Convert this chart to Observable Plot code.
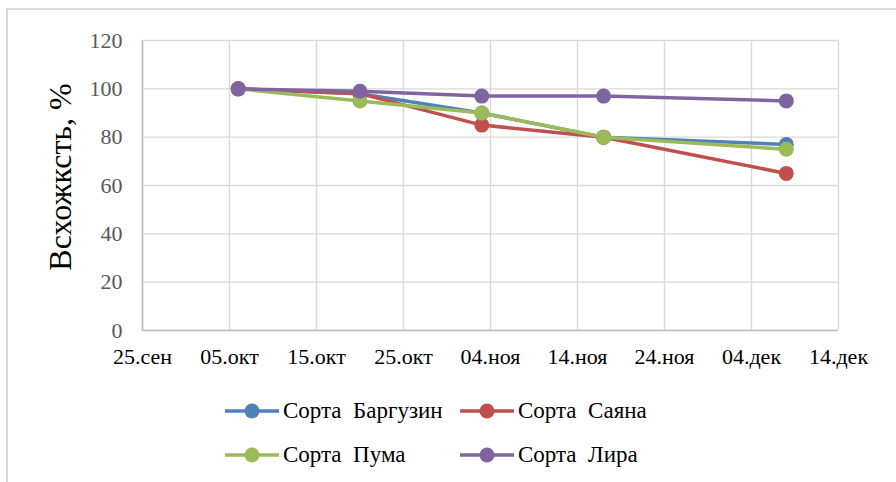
<!DOCTYPE html>
<html>
<head>
<meta charset="utf-8">
<script src="https://cdn.jsdelivr.net/npm/d3@7"></script>
<script src="https://cdn.jsdelivr.net/npm/@observablehq/plot@0.6"></script>
<style>
  html, body { margin: 0; padding: 0; background: #fff; }
  #page { position: relative; width: 896px; height: 482px; overflow: hidden; font-family: "Liberation Serif", "Times New Roman", serif; }
  #frame { position: absolute; left: 6px; top: 8px; width: 1000px; height: 1000px; border-left: 2px solid #d9d9d9; border-top: 2px solid #d9d9d9; }
  #chart { position: absolute; left: 0; top: 0; }
  #ytitle { position: absolute; left: 60px; top: 177px; transform: translate(-50%, -50%) rotate(-90deg); font-size: 32px; color: #000; white-space: nowrap; font-family: "Liberation Serif", "Times New Roman", serif; }
  .leg { position: absolute; display: flex; align-items: center; font-size: 23px; color: #000; white-space: pre; font-family: "Liberation Serif", "Times New Roman", serif; }
  .leg svg { margin-right: 4px; }
</style>
</head>
<body>
<div id="page">
  <div id="frame"></div>
  <div id="chart"></div>
  <div id="ytitle">Всхожксть, %</div>
  <div id="legend"></div>
</div>
<script>
// ---- data ----
const sampleDates = ["2014-10-06", "2014-10-20", "2014-11-03", "2014-11-17", "2014-12-08"];
const seriesNames = ["Сорта  Баргузин", "Сорта  Саяна", "Сорта  Пума", "Сорта  Лира"];
const barguzin = [100, 98, 90, 80, 77];
const sayana   = [100, 98, 85, 80, 65];
const puma     = [100, 95, 90, 80, 75];
const lira     = [100, 99, 97, 97, 95];
const seriesColors = ["#4F81BD", "#C0504D", "#9BBB59", "#8064A2"];
const xTickDates = ["2014-09-25", "2014-10-05", "2014-10-15", "2014-10-25", "2014-11-04", "2014-11-14", "2014-11-24", "2014-12-04", "2014-12-14"];
const xTickLabels = ["25.сен", "05.окт", "15.окт", "25.окт", "04.ноя", "14.ноя", "24.ноя", "04.дек", "14.дек"];
const yTicks = [0, 20, 40, 60, 80, 100, 120];

// ---- build ----
const FONT = "Liberation Serif";
const allValues = [barguzin, sayana, puma, lira];
const parse = s => new Date(s + "T00:00:00Z");
const xTicks = xTickDates.map(parse);
const rows = allValues.map((vals, k) => vals.map((v, i) => ({series: seriesNames[k], date: parse(sampleDates[i]), value: v})));

const marks = [
  Plot.gridX(xTicks, {stroke: "#d9d9d9", strokeOpacity: 1, strokeWidth: 1.4}),
  Plot.gridY(yTicks, {stroke: "#d9d9d9", strokeOpacity: 1, strokeWidth: 1.4}),
  Plot.ruleY([0], {stroke: "#bfbfbf", strokeWidth: 1.6}),
  Plot.ruleX([xTicks[0]], {stroke: "#bfbfbf", strokeWidth: 1.6}),
  Plot.axisX({ticks: xTicks, tickFormat: d => xTickLabels[xTicks.findIndex(t => +t === +d)], tickSize: 0, tickPadding: 18, label: null, fill: "#000", fontSize: 22, fontFamily: FONT}),
  Plot.axisY({ticks: yTicks, tickSize: 0, tickPadding: 20, label: null, fill: "#595959", fontSize: 22, fontFamily: FONT})
];
rows.forEach((r, k) => {
  marks.push(Plot.line(r, {x: "date", y: "value", stroke: seriesColors[k], strokeWidth: 3.5}));
  marks.push(Plot.dot(r, {x: "date", y: "value", r: 7.5, fill: seriesColors[k], stroke: "none"}));
});

const chart = Plot.plot({
  width: 896, height: 392,
  marginLeft: 142, marginRight: 58, marginTop: 40, marginBottom: 62,
  style: {fontFamily: FONT, fontSize: "22px", background: "transparent", overflow: "visible"},
  x: {type: "utc", domain: [xTicks[0], xTicks[xTicks.length - 1]]},
  y: {domain: [0, 120]},
  marks
});
document.getElementById("chart").appendChild(chart);

// ---- legend ----
const legendPos = [[225, 411], [460, 411], [225, 455], [460, 455]];
const legend = document.getElementById("legend");
seriesNames.forEach((name, k) => {
  const div = document.createElement("div");
  div.className = "leg";
  div.style.left = legendPos[k][0] + "px";
  div.style.top = (legendPos[k][1] - 15) + "px";
  div.style.height = "30px";
  div.innerHTML = `<svg width="54" height="20"><line x1="0" y1="10" x2="54" y2="10" stroke="${seriesColors[k]}" stroke-width="3.5"/><circle cx="27" cy="10" r="7.5" fill="${seriesColors[k]}"/></svg><span>${name}</span>`;
  legend.appendChild(div);
});
</script>
</body>
</html>
